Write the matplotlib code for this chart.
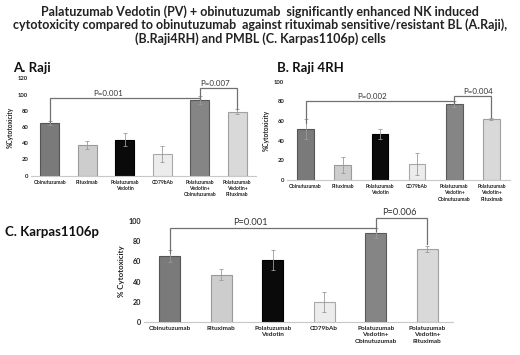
import matplotlib
matplotlib.use("Agg")
import matplotlib.pyplot as plt
import numpy as np

plt.rcParams['font.family'] = ['Lato', 'DejaVu Sans']

# data
categories = ["Obinutuzumab", "Rituximab", "Polatuzumab\nVedotin", "CD79bAb",
              "Polatuzumab\nVedotin+\nObinutuzumab", "Polatuzumab\nVedotin+\nRituximab"]

raji_vals = [65, 38, 44, 27, 93, 79]
raji_err = [2, 5, 8, 10, 5, 3]
raji4rh_vals = [52, 15, 47, 16, 77, 62]
raji4rh_err = [10, 8, 5, 11, 3, 1]
karpas_vals = [65, 47, 61, 20, 88, 72]
karpas_err = [6, 5, 10, 10, 5, 3]

# p-value brackets: (from, to, level, left drop, right drop, label, label x)
raji_p = [(0, 4, 96, 66, 94, "P=0.001", 1.55), (4, 5, 108, 96, 82, "P=0.007", 4.4)]
raji4rh_p = [(0, 4, 80, 58, 78, "P=0.002", 1.8), (4, 5, 85.5, 79, 64, "P=0.004", 4.65)]
karpas_p = [(0, 4, 93.5, 68, 90, "P=0.001", 1.56), (4, 5, 103, 93.5, 77, "P=0.006", 4.45)]

bar_colors = ["#7a7a7a", "#cdcdcd", "#0a0a0a", "#ececec", "#858585", "#d9d9d9"]
edge_colors = ["#555555", "#9a9a9a", "#000000", "#a8a8a8", "#5a5a5a", "#a0a0a0"]

W, H = 520, 355
fig = plt.figure(figsize=(W / 100, H / 100), dpi=100)

title = ("Palatuzumab Vedotin (PV) + obinutuzumab  significantly enhanced NK induced\n"
         "cytotoxicity compared to obinutuzumab  against rituximab sensitive/resistant BL (A.Raji),\n"
         "(B.Raji4RH) and PMBL (C. Karpas1106p) cells")
fig.text(0.5, 1 - 5 / H, title, ha="center", va="top", fontsize=9.0,
         fontweight="bold", color="#222222", linespacing=1.08)


def panel(box, vals, errs, ylim, step, brackets, ylabel, fs_tick, fs_cat, bw):
    l, r, t, b = box
    ax = fig.add_axes([l / W, 1 - b / H, (r - l) / W, (b - t) / H])
    x = np.arange(len(vals))
    ax.bar(x, vals, width=bw, color=bar_colors, edgecolor=edge_colors, linewidth=0.8)
    ax.errorbar(x, vals, yerr=errs, fmt="none", ecolor="#9a9a9a", elinewidth=0.6,
                capsize=1.2, capthick=0.6)
    ax.set_xlim(-0.5, len(vals) - 0.5)
    ax.set_ylim(0, ylim)
    ax.set_yticks(np.arange(0, ylim + 1, step))
    ax.set_xticks(x)
    ax.set_xticklabels(categories, fontsize=fs_cat, fontweight="bold", color="#222222",
                       linespacing=1.3)
    ax.tick_params(axis="y", labelsize=fs_tick, length=0, pad=2, labelcolor="#222222")
    ax.tick_params(axis="x", length=0, pad=3)
    for lab in ax.get_yticklabels():
        lab.set_fontweight("bold")
    for s in ["top", "right", "left"]:
        ax.spines[s].set_visible(False)
    ax.spines["bottom"].set_color("#c8c8c8")
    ax.set_ylabel(ylabel, fontsize=fs_tick + 0.5, fontweight="bold", labelpad=3,
                  color="#222222")
    for i, j, lev, d1, d2, txt, tx in brackets:
        ax.plot([i, i, j, j], [d1, lev, lev, d2], color="#707070", lw=0.9,
                clip_on=False, solid_joinstyle="miter")
        ax.text(tx, lev + ylim * 0.01, txt, ha="center", va="bottom",
                fontsize=fs_tick + 1.5, color="#333333", clip_on=False)
    return ax


panel((31, 256, 78.3, 175.7), raji_vals, raji_err, 120, 20, raji_p,
      "%Cytotoxicity", 4.2, 3.6, 0.5)
panel((287, 510, 81.7, 180), raji4rh_vals, raji4rh_err, 100, 20, raji4rh_p,
      "%Cytotoxicity", 4.2, 3.6, 0.45)
panel((144, 453, 221, 322), karpas_vals, karpas_err, 100, 20, karpas_p,
      "% Cytotoxicity", 5.2, 4.6, 0.4)

fig.text(13 / W, 1 - 68 / H, "A. Raji", fontsize=9.5, fontweight="bold",
         va="center", color="#111111")
fig.text(277 / W, 1 - 68 / H, "B. Raji 4RH", fontsize=9.5, fontweight="bold",
         va="center", color="#111111")
fig.text(5 / W, 1 - 232 / H, "C. Karpas1106p", fontsize=9.5, fontweight="bold",
         va="center", color="#111111")

fig.savefig("out.png", dpi=100)
